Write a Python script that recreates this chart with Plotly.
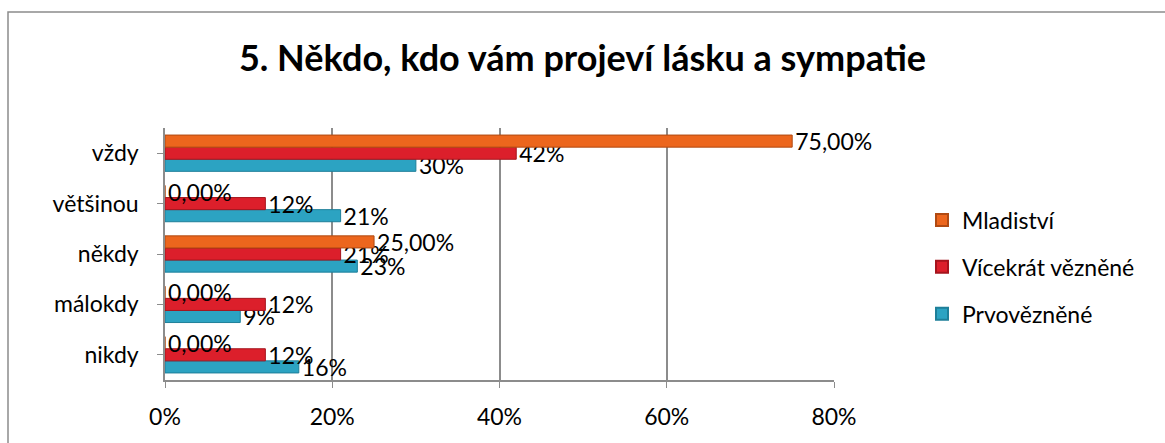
import plotly.graph_objects as go

categories = ["nikdy", "málokdy", "někdy", "většinou", "vždy"]
prvo = [16, 9, 23, 21, 30]
vicekrat = [12, 12, 21, 12, 42]
mladistvi = [0, 0, 25, 0, 75]
prvo_text = ["16%", "9%", "23%", "21%", "30%"]
vicekrat_text = ["12%", "12%", "21%", "12%", "42%"]
mladistvi_text = ["0,00%", "0,00%", "25,00%", "0,00%", "75,00%"]
xticks = [0, 20, 40, 60, 80]
xticklabels = ["0%", "20%", "40%", "60%", "80%"]

FONT = "Lato, 'Open Sans', sans-serif"
FS = 23

fig = go.Figure()
series = [
    ("Prvovězněné", prvo, prvo_text, "#2CA3C2", "#1E7F99", 3),
    ("Vícekrát vězněné", vicekrat, vicekrat_text, "#DC1F2B", "#A5141D", 2),
    ("Mladiství", mladistvi, mladistvi_text, "#EC661D", "#B04A12", 1),
]
for name, vals, txt, col, edge, rank in series:
    fig.add_trace(go.Bar(
        y=categories, x=vals, name=name, orientation="h", legendrank=rank,
        legendgroup=name,
        marker=dict(color=col, line=dict(color=edge, width=1)),
        text=txt, textposition="outside", cliponaxis=False,
        textfont=dict(family=FONT, size=FS, color="#000"),
    ))

L, R, T, B = 165, 834, 128, 380
W, H = 1165, 443
fig.update_layout(
    width=W, height=H,
    margin=dict(l=L, r=W - R, t=T, b=H - B),
    barmode="group", bargap=0.28, bargroupgap=0,
    uniformtext=dict(minsize=FS, mode="show"),
    plot_bgcolor="white", paper_bgcolor="white",
    font=dict(family=FONT, size=FS, color="#000"),
    title=dict(text="<b>5. Někdo, kdo vám projeví lásku a sympatie</b>",
               x=0.5, xanchor="center", y=1 - 58 / H, yanchor="middle",
               font=dict(family=FONT, size=36, color="#000")),
    legend=dict(x=(922 - L) / (R - L), xanchor="left",
                y=(B - 267) / (B - T), yanchor="middle", font=dict(size=FS),
                itemsizing="constant", itemwidth=30, tracegroupgap=14,
                bgcolor="rgba(0,0,0,0)"),
    xaxis=dict(range=[0, 80], tickvals=xticks, ticktext=xticklabels,
               showgrid=True, gridcolor="#8C8C8C", gridwidth=1.5,
               showline=True, linecolor="#8C8C8C", linewidth=1.5,
               ticks="outside", ticklen=6, tickcolor="#8C8C8C",
               zeroline=False, tickfont=dict(size=FS), ticklabelstandoff=10),
    yaxis=dict(showline=True, linecolor="#8C8C8C", linewidth=1.5,
               ticks="outside", ticklen=6, tickcolor="#8C8C8C",
               showgrid=False, tickfont=dict(size=FS), ticklabelstandoff=14),
    showlegend=True,
)
fig.add_shape(type="rect", xref="paper", yref="paper",
              x0=(8 - L) / (R - L), x1=(1200 - L) / (R - L),
              y0=(B - 460) / (B - T), y1=(B - 12) / (B - T),
              line=dict(color="#8C8C8C", width=1.5), layer="below")
fig.write_html("out.html", config={"displayModeBar": False},
               post_script="document.body.style.margin='0px';")
